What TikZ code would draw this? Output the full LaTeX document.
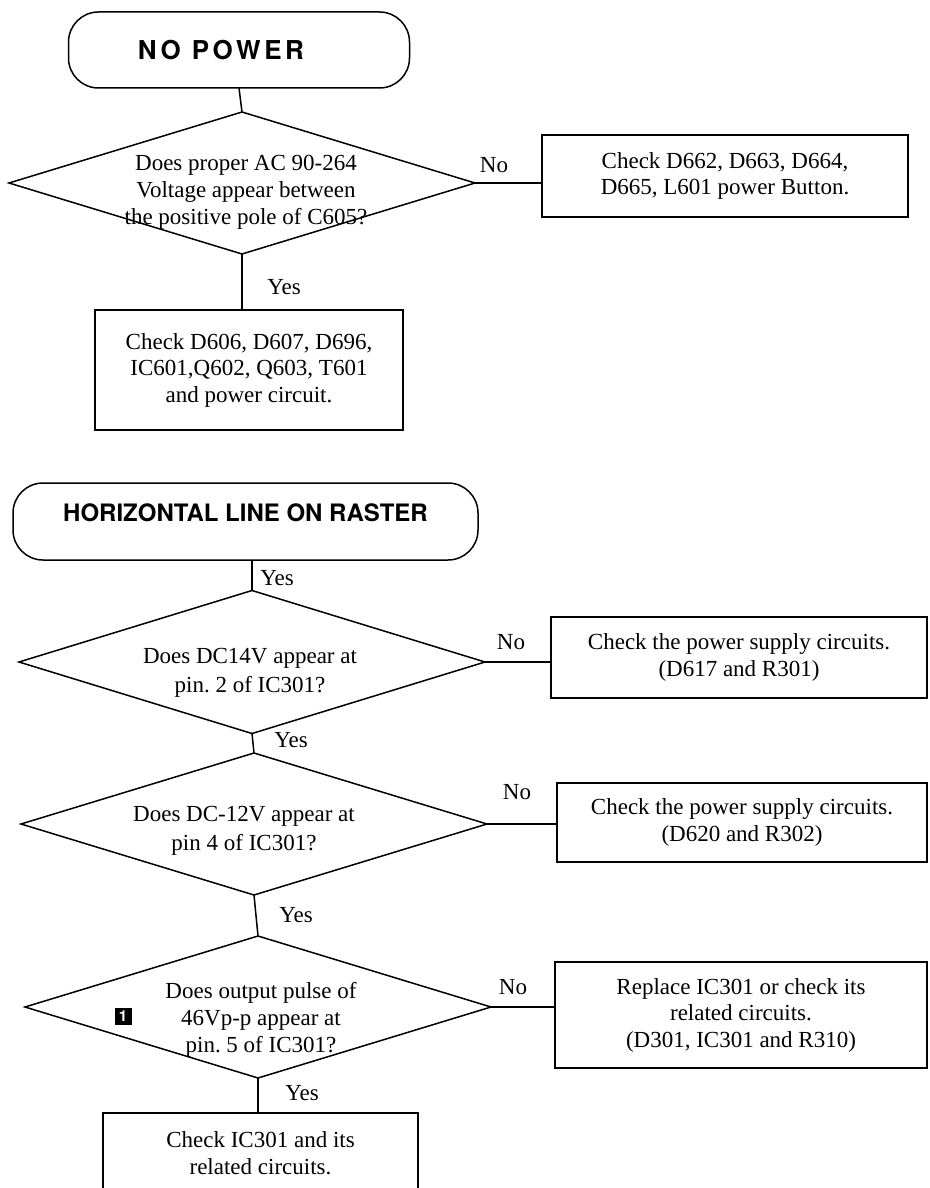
\documentclass[tikz,border=0pt]{standalone}
\usepackage{fontspec}
\setmainfont{Liberation Serif}
\newfontfamily\headfont{TeX Gyre Heros}
\newfontfamily\headwide{TeX Gyre Heros}[LetterSpace=14]
\usetikzlibrary{shapes.geometric}
\begin{document}
\begin{tikzpicture}[x=1pt,y=-1pt,
  every node/.style={inner sep=0pt, outer sep=0pt},
  link/.style={line width=1.5pt},
  terminal/.style={draw, line width=1.5pt, rounded corners=30pt,
    font=\headfont\bfseries\fontsize{24}{28}\selectfont},
  decision/.style={draw, diamond, line width=1.5pt, minimum width=466pt,
    minimum height=142pt},
  qtext/.style={align=center, font=\fontsize{23}{27}\selectfont},
  action/.style={draw, line width=1.5pt, align=center,
    font=\fontsize{23}{26.5}\selectfont},
  lbl/.style={font=\fontsize{23}{26}\selectfont},
  badge/.style={fill=black, text=white, minimum size=17pt,
    font=\headfont\bfseries\fontsize{15}{15}\selectfont},
]
\useasboundingbox (0,0) rectangle (929,1188);

% ---------- NO POWER ----------
\node[terminal, minimum width=341pt, minimum height=76pt] (t1) at (239,50)
  {\headwide\bfseries\fontsize{26}{28}\selectfont NO POWER\hspace*{36pt}};
\node[decision] (d1) at (242,183) {};
\node[qtext] (q1) at (246,192)
  {Does proper AC 90-264\\Voltage appear between\\the positive pole of C605?};
\node[action, minimum width=366pt, minimum height=82pt] (b1) at (725,176)
  {Check D662, D663, D664,\\D665, L601 power Button.};
\node[action, minimum width=308pt, minimum height=120pt] (b2) at (249,370)
  {Check D606, D607, D696,\\IC601,Q602, Q603, T601\\and power circuit.};

\draw[link] (t1.south) -- (d1.north);
\draw[link] (d1.east) -- (d1.east -| b1.west);
\draw[link] (d1.south) -- (d1.south |- b2.north);
\node[lbl] (n1) at (494,165) {No};
\node[lbl] (y1) at (284,287) {Yes};

% ---------- HORIZONTAL LINE ON RASTER ----------
\node[terminal, minimum width=465pt, minimum height=77pt] (t2) at (245.5,521.5)
  {\raisebox{18pt}{HORIZONTAL LINE ON RASTER}};
\node[decision, minimum height=143pt] (d2) at (252,662) {};
\node[qtext, font=\fontsize{23}{29}\selectfont] (q2) at (250,673)
  {Does DC14V appear at\\pin.\ 2 of IC301?};
\node[action, minimum width=376pt, minimum height=81pt] (b3) at (739,657.5)
  {Check the power supply circuits.\\(D617 and R301)};

\node[decision] (d3) at (254,824) {};
\node[qtext, font=\fontsize{23}{29}\selectfont] (q3) at (244,831)
  {Does DC-12V appear at\\pin 4 of IC301?};
\node[action, minimum width=370pt, minimum height=79pt] (b4) at (742,822.5)
  {Check the power supply circuits.\\(D620 and R302)};

\node[decision] (d4) at (258,1007) {};
\node[qtext] (q4) at (261,1020)
  {Does output pulse of\\46Vp-p appear at\\pin.\ 5 of IC301?};
\node[badge] (k1) at (123,1016) {1};
\node[action, minimum width=372pt, minimum height=106pt] (b5) at (741,1015)
  {Replace IC301 or check its\\related circuits.\\(D301, IC301 and R310)};
\node[action, minimum width=315pt, minimum height=80pt] (b6) at (260.5,1153)
  {Check IC301 and its\\related circuits.};

\draw[link] (d2.north) -- (d2.north |- t2.south);
\draw[link] (d2.east) -- (d2.east -| b3.west);
\draw[link] (d2.south) -- (d3.north);
\draw[link] (d3.east) -- (d3.east -| b4.west);
\draw[link] (d3.south) -- (d4.north);
\draw[link] (d4.east) -- (d4.east -| b5.west);
\draw[link] (d4.south) -- (d4.south |- b6.north);

\node[lbl] (y2) at (277,578) {Yes};
\node[lbl] (n2) at (511,642) {No};
\node[lbl] (y3) at (291,740) {Yes};
\node[lbl] (n3) at (517,792) {No};
\node[lbl] (y4) at (296,915) {Yes};
\node[lbl] (n4) at (513,987) {No};
\node[lbl] (y5) at (302,1093) {Yes};
\end{tikzpicture}
\end{document}
